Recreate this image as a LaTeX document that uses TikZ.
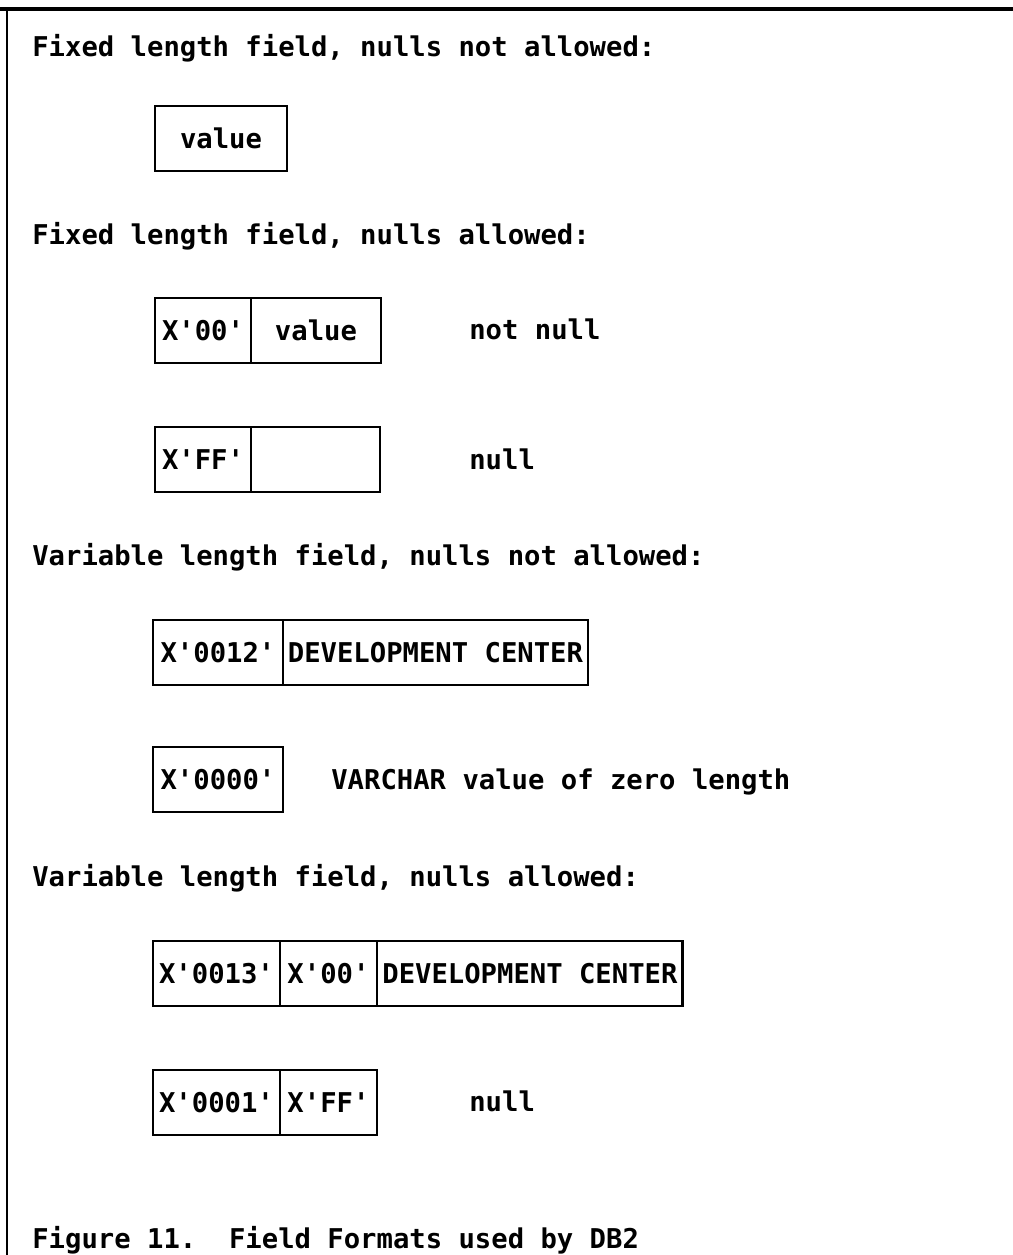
\documentclass[tikz,border=0pt]{standalone}
\usepackage{fontspec}
\setmonofont{DejaVu Sans Mono}
\usetikzlibrary{positioning}

\tikzset{
	field/.style={draw, line width=1.6pt, inner sep=0pt, outer sep=0pt, minimum height=1.3cm},
	lbl/.style={anchor=base west, inner sep=0pt},
}
\newcommand{\hexv}[1]{X\textquotesingle#1\textquotesingle}

\begin{document}
\begin{tikzpicture}[x=0.02cm,y=-0.02cm,font=\fontsize{15.5}{18}\selectfont\ttfamily\bfseries]
	\useasboundingbox (0,0) rectangle (1013,1255);
	\draw[line width=2.3pt] (0,9) -- (1013,9);
	\draw[line width=1.7pt] (7,9) -- (7,1255);

	% fixed length, no nulls
	\node[lbl] (h1) at (32,56) {Fixed length field, nulls not allowed:};
	\node[field,minimum width=2.64cm,anchor=north west] (fix-val) at (155,106) {value};

	% fixed length, nulls allowed
	\node[lbl] (h2) at (32,244) {Fixed length field, nulls allowed:};
	\node[field,minimum width=1.92cm,anchor=north west] (nn-flag) at (155,298) {\hexv{00}};
	\node[field,minimum width=2.6cm,right=0pt of nn-flag] (nn-val) {value};
	\node[lbl] (nn-txt) at (469,339) {not null};
	\node[field,minimum width=1.92cm,anchor=north west] (nul-flag) at (155,427) {\hexv{FF}};
	\node[field,minimum width=2.58cm,right=0pt of nul-flag] (nul-val) {};
	\node[lbl] (nul-txt) at (469,469) {null};

	% variable length, no nulls
	\node[lbl] (h3) at (32,565) {Variable length field, nulls not allowed:};
	\node[field,minimum width=2.6cm,anchor=north west] (vc-len) at (153,620) {\hexv{0012}};
	\node[field,minimum width=6.1cm,right=0pt of vc-len] (vc-val) {DEVELOPMENT CENTER};
	\node[field,minimum width=2.6cm,anchor=north west] (zl-len) at (153,747) {\hexv{0000}};
	\node[lbl] (zl-txt) at (331,789) {VARCHAR value of zero length};

	% variable length, nulls allowed
	\node[lbl] (h4) at (32,886) {Variable length field, nulls allowed:};
	\node[field,minimum width=2.54cm,anchor=north west] (vn-len) at (153,941) {\hexv{0013}};
	\node[field,minimum width=1.94cm,right=0pt of vn-len] (vn-flag) {\hexv{00}};
	\node[field,minimum width=6.12cm,right=0pt of vn-flag] (vn-val) {DEVELOPMENT CENTER};
	\node[field,minimum width=2.54cm,anchor=north west] (vx-len) at (153,1070) {\hexv{0001}};
	\node[field,minimum width=1.94cm,right=0pt of vx-len] (vx-flag) {\hexv{FF}};
	\node[lbl] (vx-txt) at (469,1111) {null};

	\node[lbl] (cap) at (32,1248) {Figure 11.\ \ Field Formats used by DB2};
\end{tikzpicture}
\end{document}
